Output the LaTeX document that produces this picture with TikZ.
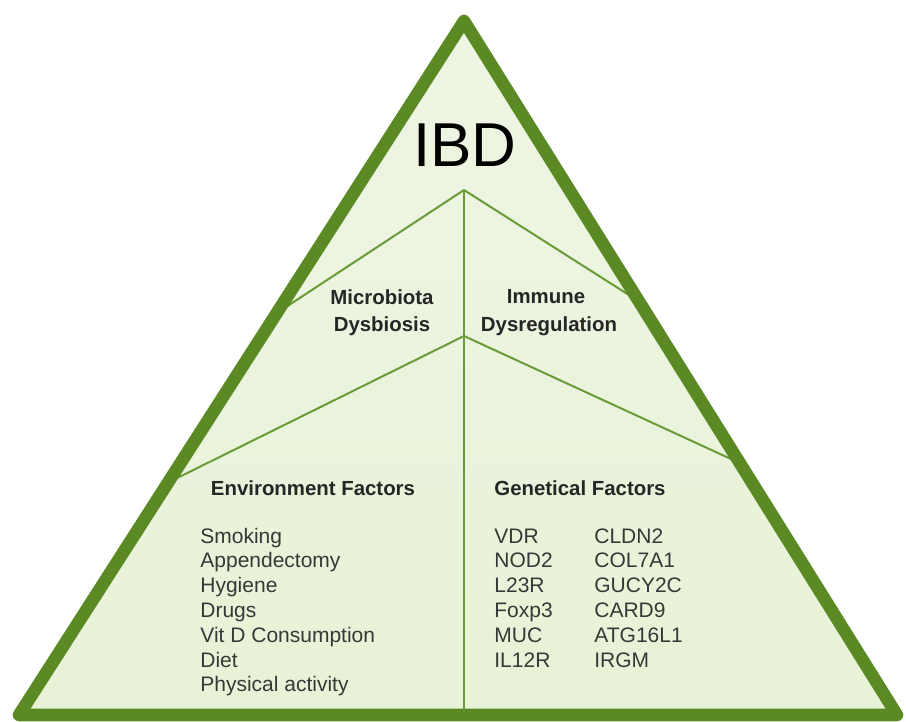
\documentclass[tikz,border=0pt]{standalone}
\usepackage{fontspec}
\setmainfont{Liberation Sans}
\usetikzlibrary{calc}
\definecolor{rim}{HTML}{5B8A25}
\definecolor{seam}{HTML}{6B9A38}
\definecolor{leaf}{HTML}{E7F2D6}
\definecolor{leaftop}{HTML}{EEF6E4}
\tikzset{
  head/.style={font=\fontsize{10.2}{12}\selectfont\bfseries, text=black!85, inner sep=0pt, anchor=base},
  item/.style={font=\fontsize{10.5}{12.4}\selectfont, text=black!78, inner sep=0pt, anchor=base west},
}
\begin{document}
\begin{tikzpicture}[x=0.5pt, y=-0.5pt]
\useasboundingbox (0,0) rectangle (906,722);

% corners of the pyramid
\coordinate (top) at (464,21);
\coordinate (bl) at (19,715);
\coordinate (br) at (897,715);
\coordinate (j1) at (464,190);
\coordinate (j2) at (464,336);
\coordinate (foot) at (464,715);
\coordinate (l1) at ($(top)!0.421!(bl)$);
\coordinate (r1) at ($(top)!0.404!(br)$);
\coordinate (l2) at ($(top)!0.665!(bl)$);
\coordinate (r2) at ($(top)!0.637!(br)$);

\fill[top color=leaftop, bottom color=leaf] (top) -- (bl) -- (br) -- cycle;

\path[draw,seam,line width=1pt] (j1) -- (foot);
\path[draw,seam,line width=1pt] (j1) -- (l1);
\path[draw,seam,line width=1pt] (j1) -- (r1);
\path[draw,seam,line width=1pt] (j2) -- (l2);
\path[draw,seam,line width=1pt] (j2) -- (r2);

\path[draw,rim,line width=6.3pt,line join=round] (top) -- (bl) -- (br) -- cycle;

% titles
\node[font=\fontsize{31}{36}\selectfont, inner sep=0pt, anchor=base] (ibd) at (465,167) {IBD};
\node[head] (micro) at (382,305) {Microbiota};
\node[head] (dysb) at (382,331) {Dysbiosis};
\node[head] (immune) at (546,303) {Immune};
\node[head] (dysreg) at (549,331) {Dysregulation};
\node[head] (env) at (313,495) {Environment Factors};
\node[head] (gen) at (580,495) {Genetical Factors};

% lists
\foreach \txt [count=\i] in {Smoking, Appendectomy, Hygiene, Drugs, Vit D Consumption, Diet, Physical activity}
  \node[item] (env\i) at (200,{543+24.8*(\i-1)}) {\txt};
\foreach \txt [count=\i] in {VDR, NOD2, L23R, Foxp3, MUC, IL12R}
  \node[item] (gena\i) at (494,{543+24.8*(\i-1)}) {\txt};
\foreach \txt [count=\i] in {CLDN2, COL7A1, GUCY2C, CARD9, ATG16L1, IRGM}
  \node[item] (genb\i) at (594,{543+24.8*(\i-1)}) {\txt};
\end{tikzpicture}
\end{document}
